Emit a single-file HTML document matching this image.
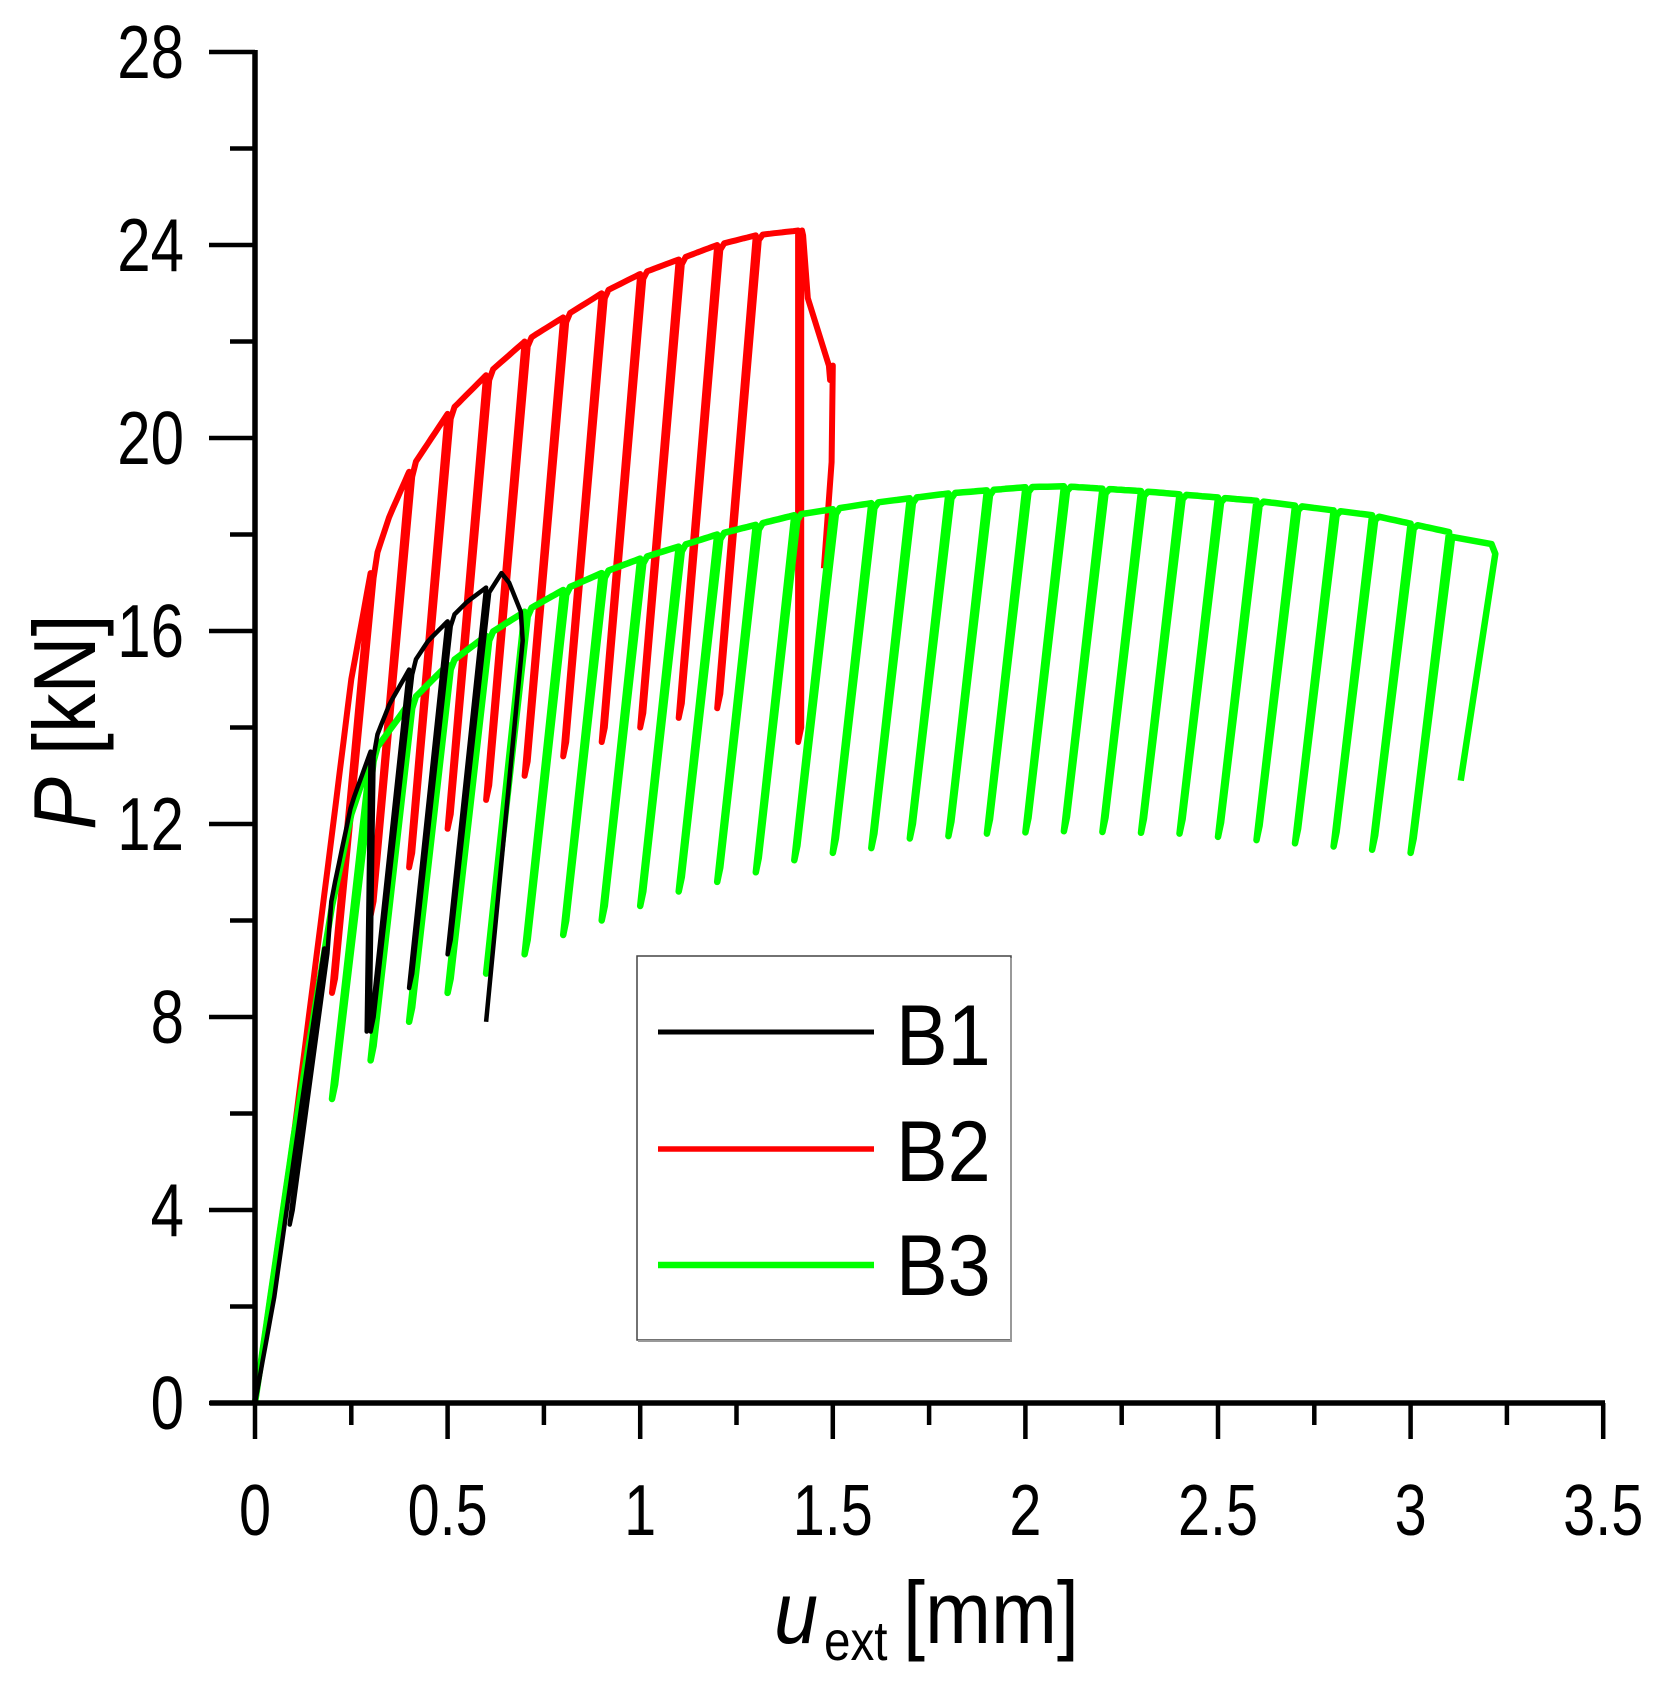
<!DOCTYPE html>
<html><head><meta charset="utf-8"><style>
html,body{margin:0;padding:0;background:#fff;}
svg{display:block;}
text{font-family:"Liberation Sans",sans-serif;fill:#000;}
</style></head><body>
<svg id="s" width="1670" height="1695" viewBox="0 0 1670 1695" xmlns="http://www.w3.org/2000/svg">
<g id="plot"></g>
<g id="axes" stroke="#000" stroke-width="5.5" fill="none">
<line x1="255" y1="50" x2="255" y2="1405"/>
<line x1="210" y1="1403" x2="1605" y2="1403"/>
</g>
<g id="ticks" stroke="#000" stroke-width="4.5"></g>
<g id="labels"></g>
<g id="legend">
<rect x="637" y="956" width="374" height="384" fill="#fff" stroke="#444" stroke-width="1.5"/>
<line x1="1011" y1="958" x2="1011" y2="1341" stroke="#999" stroke-width="2"/>
<line x1="638" y1="1341" x2="1012" y2="1341" stroke="#999" stroke-width="2"/>
<line x1="658" y1="1032" x2="874" y2="1032" stroke="#000" stroke-width="5"/>
<line x1="658" y1="1149" x2="874" y2="1149" stroke="#ff0000" stroke-width="5.5"/>
<line x1="658" y1="1265" x2="874" y2="1265" stroke="#00ff00" stroke-width="6.5"/>
<text transform="translate(896,1065) scale(0.9,1)" font-size="86">B1</text>
<text transform="translate(896,1181) scale(0.9,1)" font-size="86">B2</text>
<text transform="translate(896,1295) scale(0.9,1)" font-size="86">B3</text>
</g>
<text transform="translate(774,1643) scale(0.9,1)" font-size="88" font-style="italic">u</text>
<text transform="translate(824,1660) scale(0.85,1)" font-size="56">ext</text>
<text transform="translate(903,1643) scale(0.9,1)" font-size="88">[mm]</text>
<text transform="translate(95,830) rotate(-90) scale(0.9,1)" font-size="88"><tspan font-style="italic">P</tspan> [kN]</text>
</svg>
<script>
var NS="http://www.w3.org/2000/svg";
function X(u){return 255+u*385.2;}
function Y(p){return 1403-p*48.25;}
function el(n,a,parent,txt){var e=document.createElementNS(NS,n);for(var k in a)e.setAttribute(k,a[k]);if(txt!==undefined)e.textContent=txt;parent.appendChild(e);return e;}
var ticks=document.getElementById('ticks'),labels=document.getElementById('labels');
for(var i=0;i<=14;i++){var x=X(i*0.25);var big=i%2==0;el('line',{x1:x,y1:1403,x2:x,y2:1403+(big?36:22)},ticks);}
for(var i=0;i<=14;i++){var y=Y(i*2);var big=i%2==0;el('line',{x1:255,y1:y,x2:255-(big?46:25),y2:y},ticks);}
for(var i=0;i<=7;i++){var u=i*0.5;var t=(u===0?"0":(u%1===0?String(u):u.toFixed(1)));
 el('text',{transform:'translate('+X(u)+',1535) scale(0.8,1)','font-size':72,'text-anchor':'middle'},labels,t);}
for(var i=0;i<=7;i++){var p=i*4;
 el('text',{transform:'translate(184,'+(Y(p)+26)+') scale(0.8,1)','font-size':75,'text-anchor':'end'},labels,String(p));}
function interp(pts,u){if(u<=pts[0][0])return pts[0][1];for(var i=1;i<pts.length;i++){if(u<=pts[i][0]){var a=pts[i-1],b=pts[i];return a[1]+(b[1]-a[1])*(u-a[0])/(b[0]-a[0]);}}return pts[pts.length-1][1];}
function build(env,cycles,d,tail){
 var P=[[0,0]],cur=0;
 cycles.forEach(function(c){var up=c[0],m=c[1],dl=c[2]!==undefined?c[2]:d;
  for(var u=cur+0.01;u<up;u+=0.01)P.push([u,interp(env,u)]);
  var e=interp(env,up);P.push([up,e]);P.push([up-dl,m]);P.push([up-dl+0.008,m+0.3]);P.push([up+0.008,e-0.1]);cur=up+0.008;});
 if(tail)tail.forEach(function(t){P.push(t);});
 return 'M'+P.map(function(p){return X(p[0]).toFixed(1)+','+Y(p[1]).toFixed(1);}).join(' L');
}
var plot=document.getElementById('plot');
// Red B2
var redEnv=[[0,0],[0.1,5.5],[0.2,11.8],[0.25,15],[0.3,17.2],[0.35,18.4],[0.4,19.3],[0.5,20.5],[0.6,21.3],[0.7,22.0],[0.8,22.5],[0.9,23.0],[1.0,23.4],[1.1,23.7],[1.2,24.0],[1.3,24.2],[1.41,24.3],[1.5,24.3]];
var redC=[[0.3,8.5],[0.4,10.1],[0.5,11.1],[0.6,11.9],[0.7,12.5],[0.8,13.0],[0.9,13.4],[1.0,13.7],[1.1,14.0],[1.2,14.2],[1.3,14.4],[1.41,13.7,0.0]];
var redPath=build(redEnv,redC,0.1,[[1.42,24.3],[1.423,24.2],[1.435,22.9],[1.49,21.5],[1.493,21.2],[1.5,21.5],[1.497,19.5],[1.477,17.3]]);
el('path',{d:redPath,fill:'none',stroke:'#ff0000','stroke-width':6,'stroke-linejoin':'round'},plot);
// Green B3
var gEnv=[[0,0],[0.1,5.5],[0.2,10.3],[0.25,12.2],[0.3,13.4],[0.4,14.5],[0.5,15.3],[0.6,15.9],[0.7,16.4],[0.8,16.85],[0.9,17.2],[1.0,17.5],[1.2,18.0],[1.4,18.4],[1.6,18.65],[1.8,18.85],[2.0,18.98],[2.1,19.0],[2.3,18.9],[2.6,18.7],[2.9,18.4],[3.1,18.05],[3.2,17.8]];
function gMin(u){return interp([[0.2,6.3],[0.3,7.1],[0.4,7.9],[0.5,8.5],[0.6,8.9],[0.7,9.3],[0.8,9.7],[0.9,10.0],[1.0,10.3],[1.1,10.6],[1.2,10.8],[1.3,11.0],[1.4,11.25],[1.5,11.4],[1.6,11.5],[1.7,11.7],[1.9,11.8],[2.1,11.85],[2.4,11.8],[2.7,11.6],[3.0,11.4]],u);}
var gC=[];for(var k=3;k<=31;k++){var up=k/10;gC.push([up,gMin(up-0.1)]);}
var gPath=build(gEnv,gC,0.1,null);
var gp=gPath+' L'+X(3.21).toFixed(1)+','+Y(17.8).toFixed(1)+' L'+X(3.22).toFixed(1)+','+Y(17.6).toFixed(1)+' L'+X(3.13).toFixed(1)+','+Y(12.9).toFixed(1);
el('path',{d:gp,fill:'none',stroke:'#00ff00','stroke-width':6.5,'stroke-linejoin':'round'},plot);
// Black B1
var bEnv=[[0,0],[0.05,2.2],[0.1,5],[0.15,7.8],[0.2,10.5],[0.25,12.4],[0.3,13.5],[0.35,14.5],[0.4,15.2],[0.45,15.8],[0.5,16.2],[0.55,16.6],[0.6,16.9],[0.64,17.2]];
var bC=[[0.18,3.7,0.09],[0.3,7.7,0.01],[0.4,7.7],[0.5,8.6],[0.6,9.3]];
var bPath=build(bEnv,bC,0.1,[[0.64,17.2],[0.66,17.0],[0.69,16.4],[0.695,15.8],[0.6,7.9]]);
el('path',{d:bPath,fill:'none',stroke:'#000','stroke-width':4.5,'stroke-linejoin':'round'},plot);
</script>
</body></html>
